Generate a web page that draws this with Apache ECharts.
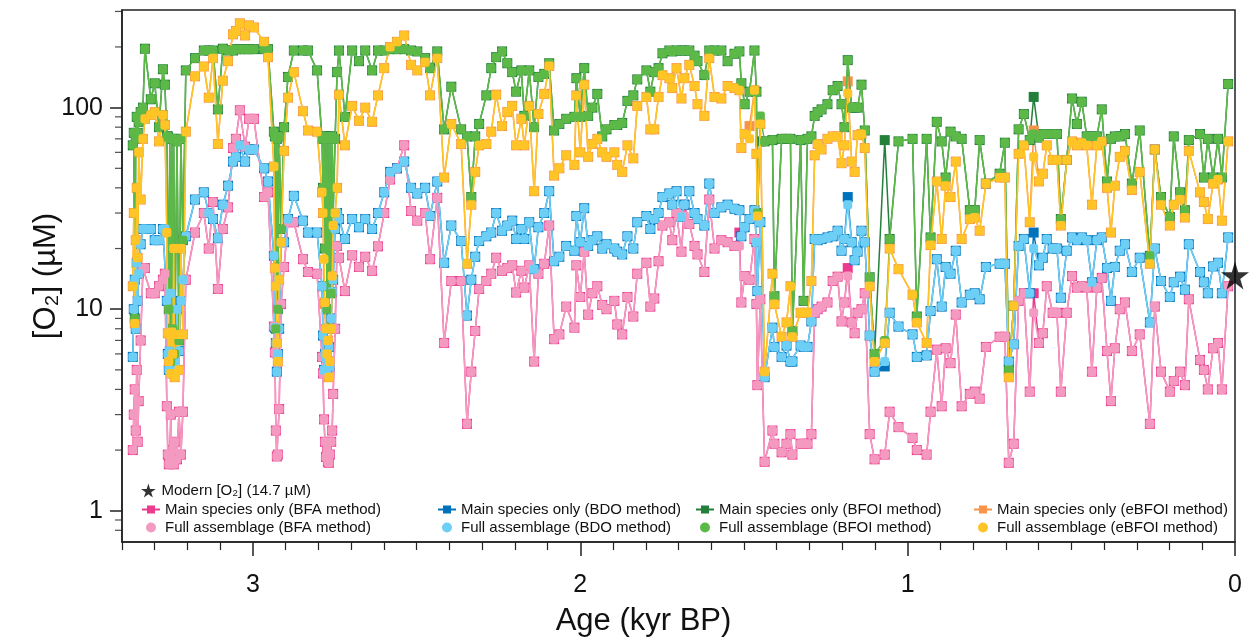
<!DOCTYPE html>
<html>
<head>
<meta charset="utf-8">
<script src="https://cdn.jsdelivr.net/npm/echarts@6/dist/echarts.min.js"></script>
<style>
  html, body { margin: 0; padding: 0; background: #fff; }
  #chart { width: 1256px; height: 637px; }
</style>
</head>
<body>
<div id="chart"></div>
<script>
// sample ages (kyr BP), shared by every method
var ages = [3.367,3.364,3.361,3.358,3.355,3.352,3.349,3.343,3.336,3.330,3.312,3.300,3.287,3.275,3.269,3.263,3.260,3.257,3.254,3.251,
  3.248,3.245,3.242,3.239,3.232,3.226,3.220,3.214,3.205,3.177,3.150,3.135,3.122,3.107,3.092,3.076,3.061,3.052,3.040,3.024,
  3.012,2.997,2.966,2.954,2.936,2.933,2.930,2.927,2.924,2.920,2.914,2.905,2.893,2.875,2.847,2.832,2.804,2.789,2.786,2.783,
  2.780,2.777,2.774,2.771,2.768,2.765,2.761,2.758,2.755,2.749,2.743,2.737,2.719,2.697,2.676,2.657,2.636,2.618,2.599,2.581,
  2.560,2.538,2.517,2.498,2.474,2.459,2.437,2.416,2.394,2.364,2.346,2.333,2.321,2.309,2.287,2.272,2.257,2.239,2.223,2.208,
  2.196,2.180,2.171,2.156,2.141,2.128,2.110,2.095,2.080,2.064,2.043,2.018,2.012,2.000,1.988,1.976,1.963,1.948,1.933,1.920,
  1.896,1.887,1.872,1.856,1.838,1.826,1.798,1.786,1.774,1.761,1.749,1.728,1.719,1.706,1.691,1.682,1.667,1.651,1.642,1.621,
  1.606,1.590,1.569,1.550,1.529,1.514,1.508,1.498,1.483,1.468,1.462,1.459,1.450,1.437,1.413,1.407,1.385,1.370,1.358,1.352,
  1.327,1.318,1.306,1.294,1.284,1.275,1.263,1.245,1.229,1.214,1.202,1.193,1.183,1.171,1.162,1.153,1.141,1.131,1.116,1.101,
  1.070,1.055,1.028,0.985,0.972,0.942,0.930,0.911,0.896,0.884,0.869,0.853,0.835,0.810,0.795,0.780,0.761,0.719,0.703,0.691,
  0.676,0.661,0.645,0.627,0.615,0.599,0.587,0.575,0.557,0.544,0.532,0.514,0.498,0.483,0.468,0.453,0.437,0.422,0.407,0.391,
  0.379,0.367,0.352,0.336,0.315,0.291,0.260,0.245,0.226,0.199,0.187,0.168,0.153,0.141,0.107,0.095,0.083,0.067,0.052,0.040,
  0.021];

// Full assemblage [O2] (uM)
var fullBFA = [2.0,3.0,4.0,2.5,5.0,2.2,3.5,7,16,16,12,12,13,14,15,3.3,1.9,1.7,1.8,3.0,
  1.8,2.0,1.7,2.2,1.8,3.1,1.9,3.1,14,24,30,20,34,12.6,25,32,63,70,97,64,
  88,88,36,38,8.2,6.1,2.5,1.86,1.9,3.2,10.6,16.2,27,27,17.7,15.3,15,5.8,4.8,2.84,
  2.2,1.85,2.0,1.75,1.73,1.9,2.2,2.5,3.8,8,20.6,18,12.3,18.5,16.2,18.2,15.5,20.5,30,44,
  50,65,30.7,27.5,30,17.7,35.7,6.8,13.8,13.8,2.7,4.9,7.8,12.6,13.8,15,18,15.5,16,16.5,
  12.1,15.5,12.8,16.5,5.5,15,16.8,26,7.1,7.5,10.3,8.1,16.5,11.5,19.3,9.4,12,13,10.5,10,
  11,8.4,7.5,11.5,9.2,15,17,10.3,11.3,17.3,26,27,22,30,19.3,29,26.5,20.6,18.7,15.3,
  35,20,22,21.5,20.6,20.6,10.8,14.6,14,22.3,10.6,4.2,11.2,1.75,2.5,2.15,1.95,2.15,2.4,1.9,
  2.15,2.15,2.15,2.4,9.6,10,10.3,10.8,13.8,14.5,8.7,10.8,14.6,8.6,7.6,9.6,10,12,2.4,1.8,
  1.9,3.1,2.6,2.3,2.0,1.9,3.1,6.3,3.3,6.4,5.4,9.4,3.3,3.8,3.9,3.6,6.5,7.3,7.3,1.73,
  2.15,11,12,3.9,9.6,6.8,7.6,13,9.6,9.6,3.9,9.6,14.6,12.8,13,12.8,4.9,12.8,14.3,6.2,
  3.5,6.4,10,10.8,6.2,7.5,2.7,10.3,4.9,3.9,4.4,4.9,4.2,11.2,5.6,5,4,6.4,6.8,4,
  13];
var fullBDO = [5.8,10,14,8,17,11,15,21,25,25,25,22,22,25,25,11,6,5,6.2,12,
  5.0,6,4.8,5.5,10,6.2,11,14,23,35,38,30,28,22.5,33,41,54,57,65,54,
  62,62,50,43,18.4,8.1,6.8,4.9,6,8,21.5,21.5,28,36.5,27.5,24,24,13,7.4,5.0,
  6,5.7,5.0,5.5,6.5,5.2,9,12.2,14,25,30,28,22.3,28,25.5,28,25,30,38,48,
  50,54,40,37.5,40,29,43,17,26,21.8,9.3,14,18.2,21.8,23,24,30,24.5,26,27.5,
  22.3,25,22.3,27,15.8,25.5,30,38.5,17.3,18.2,20.6,19.5,29,21.5,31.7,20.6,22,23,20,21,
  20,19.3,18.7,23,20,27,29,25,28,30,36,37.5,33,38.5,28.7,33,38.5,30,28,26,
  42,30,32,33,31.5,31,23,25.5,28,31,21.5,12.3,27,4.6,8.1,6.5,5.8,6.6,5.5,5.5,
  6.6,6.5,6.5,8.7,22.3,22,22.3,22.7,23,24.5,19.5,22.3,33,21.5,17.5,19.3,24.5,21.5,7.4,4.9,
  5.5,9.6,8.2,7.5,5.8,5.9,9.8,17.7,10.3,16.2,15,19.5,10.8,11.8,12,11.2,16.2,16.8,16.8,5.5,
  6.7,20.6,22.3,12,20,16.5,18,22.3,20,20,11.4,19.5,22.7,22,22.7,22,13.6,22,22.7,16,
  11,16.2,19.5,21,15.3,18,8.6,20,13.8,11.5,13.6,14.5,12.5,21,15.3,13.6,12,16.3,17,12,
  22.7];
var fullBFOI = [65,75,9,70,90,75,85,95,100,196,110,132,80,155,130,72,72,10,70,5.5,
  70,8,70,6,68,7,70,22,153,176,192,192,192,98,196,192,192,195,195,195,
  195,195,195,195,76,72,8,70,10,72,25,80,142,192,192,192,153,70,40,72,
  20,72,10,70,8,72,12,72,30,70,150,192,90,192,170,192,153,192,192,195,
  195,195,192,190,176,157,190,78,127,78,72,36,72,83,115,157,178,190,166,150,
  120,153,91,153,80,142,147,166,77,83,88,90,140,90,157,91,100,117,72,78,
  82,82,84,108,115,138,153,120,150,157,186,192,190,192,192,192,192,181,170,145,
  192,192,192,170,185,190,132,104,120,192,120,30,91,68,69,11.6,70,70,70,7.8,
  69,11,70,72,91,95,98,104,122,128,104,80,172,100,100,100,130,77,14.4,6.0,
  7,22.3,68,70,9.2,70,22.7,85,68,45,76,72,70,31,31,69,42,47,67,5,
  10.4,78,93,69,74,71,74,74,74,74,28,55,111,83,107,72,72,72,98,43,
  70,72,72,74,42,77,18.4,62,36,28.7,72,38,31,69,74,45,70,45,70,45,
  131];
var fullEBFOI = [13,30,8.5,22,40,18,60,35,70,88,92,95,68,92,82,24,7.6,5.5,7.5,4.8,
  7.7,6.0,20,4.6,7.5,5,20,7.5,76,143,160,112,176,66,136,170,231,240,262,228,
  256,250,212,178,51,16,13,6.8,5.5,14,21.5,61,112,150,96,77,76,38,30,17.7,
  10.8,8,6,7,4.6,5.5,8,14.6,26,30,40,116,65,102,86,100,85,115,157,200,
  212,228,163,153,168,115,176,45,83,66,16.8,33,48,65,66,76,116,81,95,102,
  65,88,65,102,38.5,93,117,161,46,50,58,52,115,60,130,57,66,70,60,57,
  60,52,48,65,56,102,113,78,78,113,145,140,125,157,111,140,163,128,104,91,
  176,113,111,128,125,122,63,74,70,122,59,29,83,4.9,15,10.6,7.3,8.6,13,7.3,
  9.6,9.6,9.6,13.8,58,66,62,70,72,72,53,65,118,54,48,73,74,63,13,5.5,
  6.8,20,15.8,11.8,8.6,6.8,20.8,43,22.3,41,36,54,22.3,28,28.5,24.5,42,45,45,4.6,
  10.4,59,65,27,57,43,47,65,55,55,26,55,68,65,67,65,33,65,68,40,
  24,41,57,61,39,48,16.8,62,33,26,33,35,28.5,61,38,34,28,42,44,27.5,
  68];

// Main species only [O2] (uM)
var mainBFA = [2.0,3.0,4.0,2.5,5.0,2.2,3.5,7,16,16,12,12,13,14,15,3.3,1.9,1.7,1.8,3.0,
  1.8,2.0,1.7,2.2,1.8,3.1,1.9,3.1,14,24,30,20,34,12.6,25,32,63,70,97,64,
  88,88,36,38,8.2,6.1,2.5,1.86,1.9,3.2,10.6,16.2,27,27,17.7,15.3,15,5.8,4.8,2.84,
  2.2,1.85,2.0,1.75,1.73,1.9,2.2,2.5,3.8,8,20.6,18,12.3,18.5,16.2,18.2,15.5,20.5,30,44,
  50,65,30.7,27.5,30,17.7,35.7,6.8,13.8,13.8,2.7,4.9,7.8,12.6,13.8,15,18,15.5,16,16.5,
  12.1,15.5,12.8,16.5,5.5,15,16.8,26,7.1,7.5,10.3,8.1,16.5,11.5,19.3,9.4,12,13,10.5,10,
  11,8.4,7.5,11.5,9.2,15,17,10.3,11.3,17.3,26,27,22,30,19.3,33,26.5,20.6,18.7,15.3,
  35,20,22,21.5,20.6,24,10.8,14.6,14,22.3,10.6,4.2,11.2,1.75,2.5,2.15,1.95,2.15,2.4,1.9,
  2.15,2.15,2.15,2.4,9.6,10,10.3,10.8,13.8,14.5,8.7,10.8,16,8.6,7.6,9.6,10,12,2.4,1.8,
  1.9,3.1,2.6,2.3,2.0,1.9,3.1,6.3,3.3,6.4,5.4,9.4,3.3,3.8,3.9,3.6,6.5,7.3,7.3,1.73,
  2.15,11,12,3.9,12,6.8,7.6,13,9.6,9.6,3.9,9.6,14.6,12.8,13,12.8,4.9,12.8,14.3,6.2,
  3.5,6.4,10,10.8,6.2,7.5,2.7,10.3,4.9,3.9,4.4,4.9,4.2,11.2,5.6,5,4,6.4,6.8,4,
  13];
var mainBDO = [5.8,10,14,8,17,11,15,21,25,25,25,22,22,25,25,11,6,5,6.2,12,
  5.0,6,4.8,5.5,10,6.2,11,14,23,35,38,30,28,22.5,33,41,54,57,65,54,
  62,62,50,43,18.4,8.1,6.8,4.9,6,8,21.5,21.5,28,36.5,27.5,24,24,13,7.4,5.0,
  6,5.7,5.0,5.5,6.5,5.2,9,12.2,14,25,30,28,22.3,28,25.5,28,25,30,38,48,
  50,54,40,37.5,40,29,43,17,26,21.8,9.3,14,18.2,21.8,23,24,30,24.5,26,27.5,
  22.3,25,22.3,27,15.8,25.5,30,38.5,17.3,18.2,20.6,19.5,29,21.5,31.7,20.6,22,23,20,21,
  20,19.3,18.7,23,20,27,29,25,28,30,36,37.5,33,38.5,28.7,33,38.5,30,28,26,
  42,30,32,33,31.5,31,23,25.5,28,31,21.5,12.3,27,4.6,8.1,6.5,5.8,6.6,5.5,5.5,
  6.6,6.5,6.5,8.7,22.3,22,22.3,22.7,23,24.5,19.5,22.3,36,21.5,17.5,19.3,24.5,21.5,7.4,4.9,
  5.2,9.6,8.2,7.5,5.8,5.9,9.8,17.7,10.3,16.2,15,19.5,10.8,11.8,12,11.2,16.2,16.8,16.8,5.5,
  6.7,20.6,22.3,12,24,16.5,18,22.3,20,20,11.4,19.5,22.7,22,22.7,22,13.6,22,22.7,16,
  11,16.2,19.5,21,15.3,18,8.6,20,13.8,11.5,13.6,14.5,12.5,21,15.3,13.6,12,16.3,17,12,
  22.7];
var mainBFOI = [65,75,9,70,90,75,85,95,100,196,110,132,80,155,130,72,72,10,70,5.5,
  70,8,70,6,68,7,70,22,153,176,192,192,192,98,196,192,192,195,195,195,
  195,195,195,195,76,72,8,70,10,72,25,80,142,192,192,192,153,70,40,72,
  20,72,10,70,8,72,12,72,30,70,150,192,90,192,170,192,153,192,192,195,
  195,195,192,190,176,157,190,78,127,78,72,36,72,83,115,157,178,190,166,150,
  120,153,91,153,80,142,147,166,77,83,88,90,140,90,157,91,100,117,72,78,
  82,82,84,108,115,138,153,120,150,157,186,192,190,192,192,192,192,181,170,145,
  192,192,192,170,185,190,132,104,120,192,120,30,68,68,69,11.6,70,70,70,7.8,
  69,11,70,72,91,95,98,104,122,128,104,80,172,100,100,100,130,77,14.4,6.0,
  69,22.3,68,70,9.2,70,22.7,85,68,45,76,72,70,31,31,69,42,47,67,5,
  10.4,78,93,69,113,71,74,74,74,74,28,55,111,83,107,72,72,72,98,43,
  70,72,72,74,42,77,18.4,62,36,28.7,72,38,31,69,74,45,70,45,70,45,
  131];
var mainEBFOI = [13,30,8.5,22,40,18,60,35,70,88,92,95,68,92,82,24,7.6,5.5,7.5,4.8,
  7.7,6.0,20,4.6,7.5,5,20,7.5,76,143,160,112,176,66,136,170,231,240,262,228,
  256,250,212,178,51,16,13,6.8,5.5,14,21.5,61,112,150,96,77,76,38,30,10.6,
  10.8,8,6,7,4.6,5.5,8,14.6,26,30,40,116,65,102,86,100,85,115,157,200,
  212,228,163,153,168,115,176,45,83,66,16.8,33,48,65,66,76,116,81,95,102,
  65,88,65,102,38.5,93,117,161,46,50,58,52,115,60,130,57,66,70,60,57,
  60,52,48,65,56,102,113,78,78,113,145,140,125,157,111,140,163,128,104,91,
  176,113,111,128,125,122,63,74,81,122,59,29,83,4.9,15,10.6,7.3,8.6,13,7.3,
  9.6,9.6,9.6,13.8,58,66,62,70,72,72,53,65,135,54,48,73,74,63,13,5.5,
  6.8,20,15.8,11.8,8.6,6.8,20.8,43,22.3,41,36,54,22.3,28,28.5,24.5,42,45,45,4.6,
  10.4,59,65,27,77,43,47,65,55,55,26,55,68,65,67,65,33,65,68,40,
  24,41,57,61,39,48,16.8,62,33,26,33,35,28.5,61,38,34,28,42,44,27.5,
  68];

var modernAge = 0;
var modernO2 = 14.7;

var ageTicks = [0, 1, 2, 3];
var o2Ticks = [1, 10, 100];
var o2MinorTicks = [0.8, 0.9, 2, 3, 4, 5, 6, 7, 8, 9, 20, 30, 40, 50, 60, 70, 80, 90, 200, 300];
var ageMinorTicks = [];
for (var k = 1; k <= 34; k++) {
  if (k % 10 !== 0) ageMinorTicks.push(k / 10);
}
var AGE_MAX = 3.4;

var FONT = "'Liberation Sans', Arial, sans-serif";
var AXIS_COLOR = '#222';
var starPath = 'path://M50,0 L61,35 L98,35 L68,57 L79,91 L50,70 L21,91 L32,57 L2,35 L39,35 Z';

var chart = echarts.init(document.getElementById('chart'));

function pairs(vals) {
  var out = [];
  for (var i = 0; i < ages.length; i++) out.push([ages[i], vals[i]]);
  return out;
}

function lineSeries(name, vals, color, symbol, size, z) {
  return {
    name: name,
    type: 'line',
    data: pairs(vals),
    symbol: symbol,
    symbolSize: size,
    showSymbol: true,
    z: z,
    itemStyle: { color: color },
    lineStyle: { color: color, width: 1.5 },
    emphasis: { disabled: true }
  };
}

var methods = [
  { key: 'BFA', main: mainBFA, full: fullBFA, mainColor: '#EC3A8E', fullColor: '#F49AC1' },
  { key: 'BDO', main: mainBDO, full: fullBDO, mainColor: '#0072BC', fullColor: '#6DCFF6' },
  { key: 'BFOI', main: mainBFOI, full: fullBFOI, mainColor: '#237F3A', fullColor: '#5DB947' },
  { key: 'eBFOI', main: mainEBFOI, full: fullEBFOI, mainColor: '#F7944A', fullColor: '#FFC425' }
];

var series = [];
methods.forEach(function (m) {
  series.push(lineSeries('Main species only (' + m.key + ' method)', m.main, m.mainColor, 'rect', 10, 2));
});
methods.forEach(function (m) {
  series.push(lineSeries('Full assemblage (' + m.key + ' method)', m.full, m.fullColor, 'roundRect', 9, 3));
});
series.push({
  name: 'Modern [O₂] (14.7 µM)',
  type: 'scatter',
  data: [[modernAge, modernO2]],
  symbol: starPath,
  symbolSize: 28,
  clip: false,
  z: 10,
  itemStyle: { color: '#000' }
});
// minor log ticks of the y axis: thin bars placed at the left edge through the axis scale
series.push({
  name: 'yMinorTicks',
  type: 'scatter',
  silent: true,
  clip: false,
  z: 1,
  data: o2MinorTicks.map(function (v) { return [AGE_MAX, v]; }),
  symbol: 'rect',
  symbolSize: [7, 1.2],
  symbolOffset: [-3.5, 0],
  itemStyle: { color: AXIS_COLOR }
});

var legendCols = [136, 432, 690, 968];
var legends = [{
  left: 136, top: 478,
  data: [{ name: 'Modern [O₂] (14.7 µM)', icon: starPath }],
  itemWidth: 16, itemHeight: 14, itemGap: 4,
  textStyle: { fontFamily: FONT, fontSize: 15, color: '#111' },
  selectedMode: false
}];
methods.forEach(function (m, i) {
  legends.push({
    left: legendCols[i], top: 497,
    orient: 'vertical',
    itemGap: 3, itemWidth: 18, itemHeight: 10,
    data: [
      { name: 'Main species only (' + m.key + ' method)' },
      { name: 'Full assemblage (' + m.key + ' method)', icon: 'circle' }
    ],
    textStyle: { fontFamily: FONT, fontSize: 15, color: '#111' },
    selectedMode: false
  });
});

var gridBox = { left: 122, right: 21, top: 10, bottom: 95, outerBoundsMode: 'none', containLabel: false };

var option = {
  animation: false,
  backgroundColor: '#fff',
  grid: [
    Object.assign({ show: true, borderColor: AXIS_COLOR, borderWidth: 1.5 }, gridBox),
    Object.assign({ show: false }, gridBox)   // carries the minor x ticks
  ],
  legend: legends,
  xAxis: [{
    type: 'value', gridIndex: 0, min: 0, max: AGE_MAX, inverse: true,
    name: 'Age (kyr BP)', nameLocation: 'middle', nameGap: 64, nameMoveOverlap: false,
    nameTextStyle: { fontFamily: FONT, fontSize: 31, color: '#111', padding: [0, 70, 0, 0] },
    axisLine: { show: true, onZero: false, lineStyle: { color: AXIS_COLOR, width: 1.5 } },
    axisTick: { show: true, length: 14, customValues: ageTicks, lineStyle: { color: AXIS_COLOR, width: 1.5 } },
    axisLabel: { customValues: ageTicks, margin: 31, fontFamily: FONT, fontSize: 25, color: '#111' },
    splitLine: { show: false }
  }, {
    type: 'value', gridIndex: 1, min: 0, max: AGE_MAX, inverse: true, position: 'bottom',
    axisLine: { show: false, onZero: false },
    axisTick: { show: true, length: 8, customValues: ageMinorTicks, lineStyle: { color: AXIS_COLOR, width: 1.2 } },
    axisLabel: { show: false },
    splitLine: { show: false }
  }],
  yAxis: [{
    type: 'log', gridIndex: 0, logBase: 10, min: 0.7, max: 305,
    name: '[O₂] (µM)', nameLocation: 'middle', nameGap: 60, nameMoveOverlap: false,
    nameTextStyle: { fontFamily: FONT, fontSize: 31, color: '#111' },
    axisLine: { show: true, onZero: false, lineStyle: { color: AXIS_COLOR, width: 1.5 } },
    axisTick: { show: true, length: 12, customValues: o2Ticks, lineStyle: { color: AXIS_COLOR, width: 1.5 } },
    axisLabel: { customValues: o2Ticks, margin: 19, fontFamily: FONT, fontSize: 25, color: '#111' },
    splitLine: { show: false }
  }, {
    type: 'log', gridIndex: 1, logBase: 10, min: 0.7, max: 305,
    axisLine: { show: false, onZero: false },
    axisTick: { show: false },
    axisLabel: { show: false },
    splitLine: { show: false }
  }],
  series: series
};

chart.setOption(option);
</script>
</body>
</html>
